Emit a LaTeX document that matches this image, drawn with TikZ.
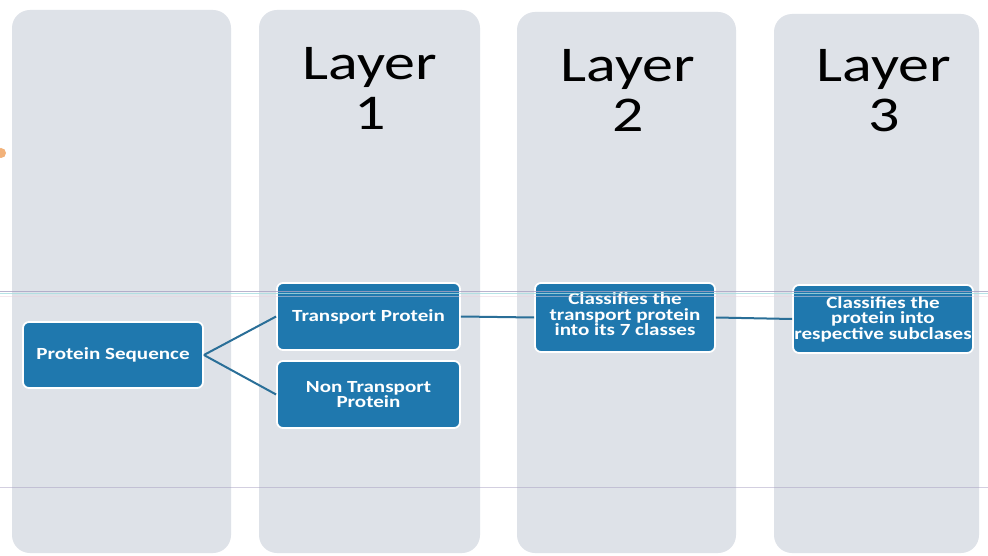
\documentclass[tikz,border=0pt]{standalone}
\usepackage{fontspec}
\setmainfont{Carlito}
% the headings and box labels are set wide
\newfontfamily\widefont[FakeStretch=1.24]{Carlito}
\definecolor{colfill}{HTML}{DEE2E8}
\definecolor{boxfill}{HTML}{1F78AE}
\definecolor{linkcol}{HTML}{2A6F98}
\definecolor{rulepurple}{HTML}{A8A0C2}
\definecolor{rulecyan}{HTML}{A6DEE0}
\definecolor{rulepink}{HTML}{EAD2DE}
\definecolor{dotorange}{HTML}{F2B27A}
\begin{document}
\begin{tikzpicture}[x=1pt,y=-1pt,
  column/.style={fill=colfill,rounded corners=18pt},
  layertitle/.style={anchor=base,font=\widefont\fontsize{50}{50}\selectfont,text=black,inner sep=0pt},
  stage/.style={draw=white,line width=1.8pt,fill=boxfill,rounded corners=6pt,
    text=white,font=\widefont\bfseries\fontsize{17}{15.5}\selectfont,align=center,inner sep=0pt},
  link/.style={draw=linkcol,line width=2pt},
  scanrule/.style={line width=1pt,opacity=0.8}]
  \useasboundingbox (0,0) rectangle (988,556);
  \fill[white] (0,0) rectangle (988,556);

  % four layer columns
  \path[column] (12,10) rectangle (231,553);
  \path[column] (259,10) rectangle (480,553);
  \path[column] (517,12) rectangle (736,553);
  \path[column] (774,14) rectangle (979,553);

  % small orange mark on the left edge
  \fill[dotorange] (1,153) circle (5pt);

  % column headings
  \node[layertitle] (l1a) at (370,80) {Layer};
  \node[layertitle] (l1b) at (370,130) {1};
  \node[layertitle] (l2a) at (628,82) {Layer};
  \node[layertitle] (l2b) at (628,132) {2};
  \node[layertitle] (l3a) at (884,82) {Layer};
  \node[layertitle] (l3b) at (884,132) {3};

  % process boxes
  \node[stage,minimum width=180pt,minimum height=66pt] (seq) at (113,355) {Protein Sequence};
  \node[stage,minimum width=183pt,minimum height=67pt] (tp) at (368.5,316.5) {Transport Protein};
  \node[stage,minimum width=183pt,minimum height=67pt] (ntp) at (368.5,394.5) {Non Transport\\Protein};
  \node[stage,minimum width=180pt,minimum height=69pt,text depth=6pt] (cls7) at (625,317.5) {Classifies the\\transport protein\\into its 7 classes};
  \node[stage,minimum width=180pt,minimum height=68pt] (sub) at (883,319) {Classifies the\\protein into\\respective subclases};

  % connectors
  \draw[link] (seq.east) -- (tp.west);
  \draw[link] (seq.east) -- (ntp.west);
  \draw[link] (tp.east) -- (cls7.west);
  \draw[link] (cls7.east) -- (sub.west);

  % faint ruled lines running across the sheet
  \draw[scanrule,rulepurple] (0,291) -- (988,291);
  \draw[scanrule,rulecyan] (0,293.5) -- (988,293.5);
  \draw[scanrule,rulepink,opacity=0.5] (0,296) -- (988,296);
  \draw[scanrule,rulepurple,opacity=0.5] (0,487) -- (988,487);
\end{tikzpicture}
\end{document}
